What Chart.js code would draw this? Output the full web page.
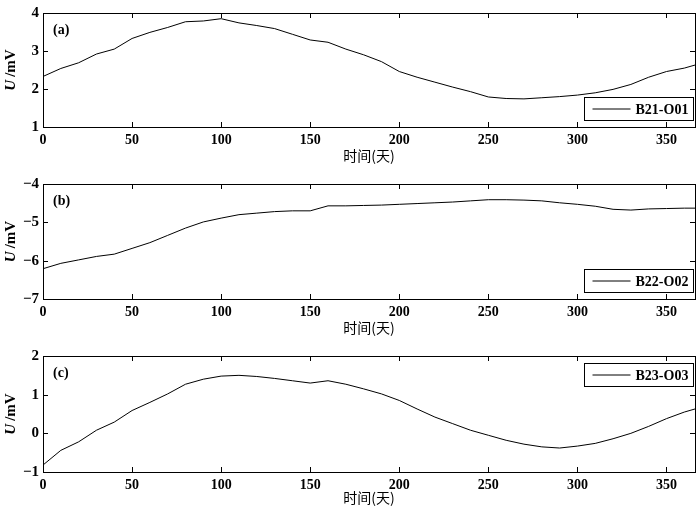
<!DOCTYPE html>
<html>
<head>
<meta charset="utf-8">
<script src="https://cdn.jsdelivr.net/npm/chart.js@4.4.0/dist/chart.umd.min.js"></script>
<style>
  html, body { margin: 0; padding: 0; background: #fff; }
  #wrap { position: relative; width: 700px; height: 513px; }
  .panel { position: absolute; left: 0; width: 700px; }
</style>
</head>
<body>
<div id="wrap">
  <div class="panel" style="top:0;height:171px"><canvas id="chartA"></canvas></div>
  <div class="panel" style="top:171px;height:172px"><canvas id="chartB"></canvas></div>
  <div class="panel" style="top:343px;height:170px"><canvas id="chartC"></canvas></div>
</div>
<script>
// Days (x) shared by the three sensors
const days = [0, 10, 20, 30, 40, 50, 60, 70, 80, 90, 100, 110, 120, 130, 140, 150, 160, 170, 180,
  190, 200, 210, 220, 230, 240, 250, 260, 270, 280, 290, 300, 310, 320, 330, 340, 350, 360, 366];

// Potential U (mV) for each electrode
const seriesA = [2.33, 2.54, 2.69, 2.92, 3.05, 3.33, 3.49, 3.62, 3.77, 3.79, 3.85, 3.74, 3.67, 3.59,
  3.44, 3.29, 3.23, 3.05, 2.90, 2.72, 2.46, 2.31, 2.18, 2.05, 1.93, 1.79, 1.75, 1.74, 1.77, 1.80,
  1.84, 1.90, 1.99, 2.12, 2.31, 2.46, 2.55, 2.63];
const seriesB = [-6.21, -6.07, -5.98, -5.89, -5.83, -5.68, -5.53, -5.34, -5.15, -4.99, -4.89, -4.80,
  -4.76, -4.72, -4.70, -4.70, -4.57, -4.57, -4.56, -4.55, -4.53, -4.51, -4.49, -4.47, -4.44, -4.41,
  -4.41, -4.42, -4.44, -4.49, -4.53, -4.58, -4.66, -4.68, -4.65, -4.64, -4.63, -4.63];
const seriesC = [-0.82, -0.44, -0.22, 0.08, 0.29, 0.59, 0.80, 1.02, 1.27, 1.40, 1.48, 1.50, 1.47,
  1.42, 1.36, 1.30, 1.36, 1.27, 1.15, 1.02, 0.85, 0.63, 0.42, 0.25, 0.08, -0.05, -0.18, -0.28,
  -0.35, -0.38, -0.33, -0.26, -0.14, 0.00, 0.18, 0.38, 0.55, 0.63];

const seriesNames = ["B21-O01", "B22-O02", "B23-O03"];
const panelLabels = ["(a)", "(b)", "(c)"];
const yRanges = [[1, 4], [-7, -4], [-1, 2]];
const xTitle = "时间(天)";

const SERIF = "'Liberation Serif', 'DejaVu Serif', serif";

// Frame, inward ticks on all sides, panel label, legend box and y title
const framePlugin = {
  id: "framePlugin",
  afterDatasetsDraw(chart, args, opts) {
    const { ctx, chartArea: a, scales } = chart;
    ctx.save();
    ctx.strokeStyle = "#000";
    ctx.lineWidth = 1;
    ctx.strokeRect(Math.round(a.left) + 0.5, Math.round(a.top) + 0.5,
      Math.round(a.right - a.left), Math.round(a.bottom - a.top));

    const len = 5;
    const seg = (x1, y1, x2, y2) => {
      ctx.beginPath(); ctx.moveTo(x1, y1); ctx.lineTo(x2, y2); ctx.stroke();
    };
    scales.x.ticks.forEach((t) => {
      const px = Math.round(scales.x.getPixelForValue(t.value)) + 0.5;
      seg(px, a.bottom, px, a.bottom - len);
      seg(px, a.top, px, a.top + len);
    });
    scales.y.ticks.forEach((t) => {
      const py = Math.round(scales.y.getPixelForValue(t.value)) + 0.5;
      seg(a.left, py, a.left + len, py);
      seg(a.right, py, a.right - len, py);
    });

    // panel letter
    ctx.fillStyle = "#000";
    ctx.font = "bold 14px " + SERIF;
    ctx.textBaseline = "middle";
    ctx.textAlign = "left";
    ctx.fillText(opts.label, a.left + 10, a.top + 17);

    // legend box
    const bw = 109, bh = 23;
    const bx = Math.round(a.right - 2 - bw) + 0.5;
    const by = opts.legendTop ? Math.round(a.top + 7) + 0.5 : Math.round(a.bottom - 7 - bh) + 0.5;
    ctx.fillStyle = "#fff";
    ctx.fillRect(bx, by, bw, bh);
    ctx.strokeRect(bx, by, bw, bh);
    seg(bx + 8, by + bh / 2, bx + 46, by + bh / 2);
    ctx.fillStyle = "#000";
    ctx.font = "bold 14px " + SERIF;
    ctx.fillText(opts.name, bx + 51, by + bh / 2 + 1);

    // y title: italic U + /mV
    const cy = (a.top + a.bottom) / 2;
    ctx.translate(11, cy);
    ctx.rotate(-Math.PI / 2);
    const f1 = "italic bold 15px " + SERIF;
    const f2 = "bold 15px " + SERIF;
    ctx.font = f1;
    const w1 = ctx.measureText("U").width;
    ctx.font = f2;
    const w2 = ctx.measureText("/mV").width;
    const sx = -(w1 + w2 + 3) / 2;
    ctx.font = f1;
    ctx.fillText("U", sx, 0);
    ctx.font = f2;
    ctx.fillText("/mV", sx + w1 + 3, 0);
    ctx.restore();
  },
};

function makeChart(id, values, idx, padTop, xHeight) {
  return new Chart(document.getElementById(id), {
    type: "line",
    data: {
      datasets: [
        {
          label: seriesNames[idx],
          data: days.map((d, i) => ({ x: d, y: values[i] })),
          borderColor: "#000",
          borderWidth: 1,
          pointRadius: 0,
          tension: 0,
          fill: false,
        },
      ],
    },
    options: {
      responsive: true,
      maintainAspectRatio: false,
      animation: false,
      layout: { padding: { top: padTop, right: 5, left: 0, bottom: 0 } },
      plugins: {
        legend: { display: false },
        tooltip: { enabled: false },
        framePlugin: { label: panelLabels[idx], name: seriesNames[idx], legendTop: idx === 2 },
      },
      scales: {
        x: {
          type: "linear",
          min: 0,
          max: 366,
          grid: { display: false, drawTicks: false },
          border: { display: false },
          ticks: {
            stepSize: 50,
            includeBounds: false,
            color: "#000",
            padding: 5,
            maxRotation: 0,
            font: { family: SERIF, size: 14, weight: "bold" },
          },
          title: {
            display: true,
            text: xTitle,
            color: "#000",
            padding: { top: 0, bottom: 7 },
            font: { family: "'Noto Sans CJK SC', sans-serif", size: 14 },
          },
          afterFit(s) { s.height = xHeight; },
        },
        y: {
          min: yRanges[idx][0],
          max: yRanges[idx][1],
          grid: { display: false, drawTicks: false },
          border: { display: false },
          ticks: {
            stepSize: 1,
            color: "#000",
            padding: 4,
            font: { family: SERIF, size: 15, weight: "bold" },
            callback: (v) => String(v).replace("-", "\u2212"),
          },
          afterFit(s) { s.width = 43; },
        },
      },
    },
    plugins: [framePlugin],
  });
}

makeChart("chartA", seriesA, 0, 10, 44);
makeChart("chartB", seriesB, 1, 11, 44);
makeChart("chartC", seriesC, 2, 12, 41);
</script>
</body>
</html>
